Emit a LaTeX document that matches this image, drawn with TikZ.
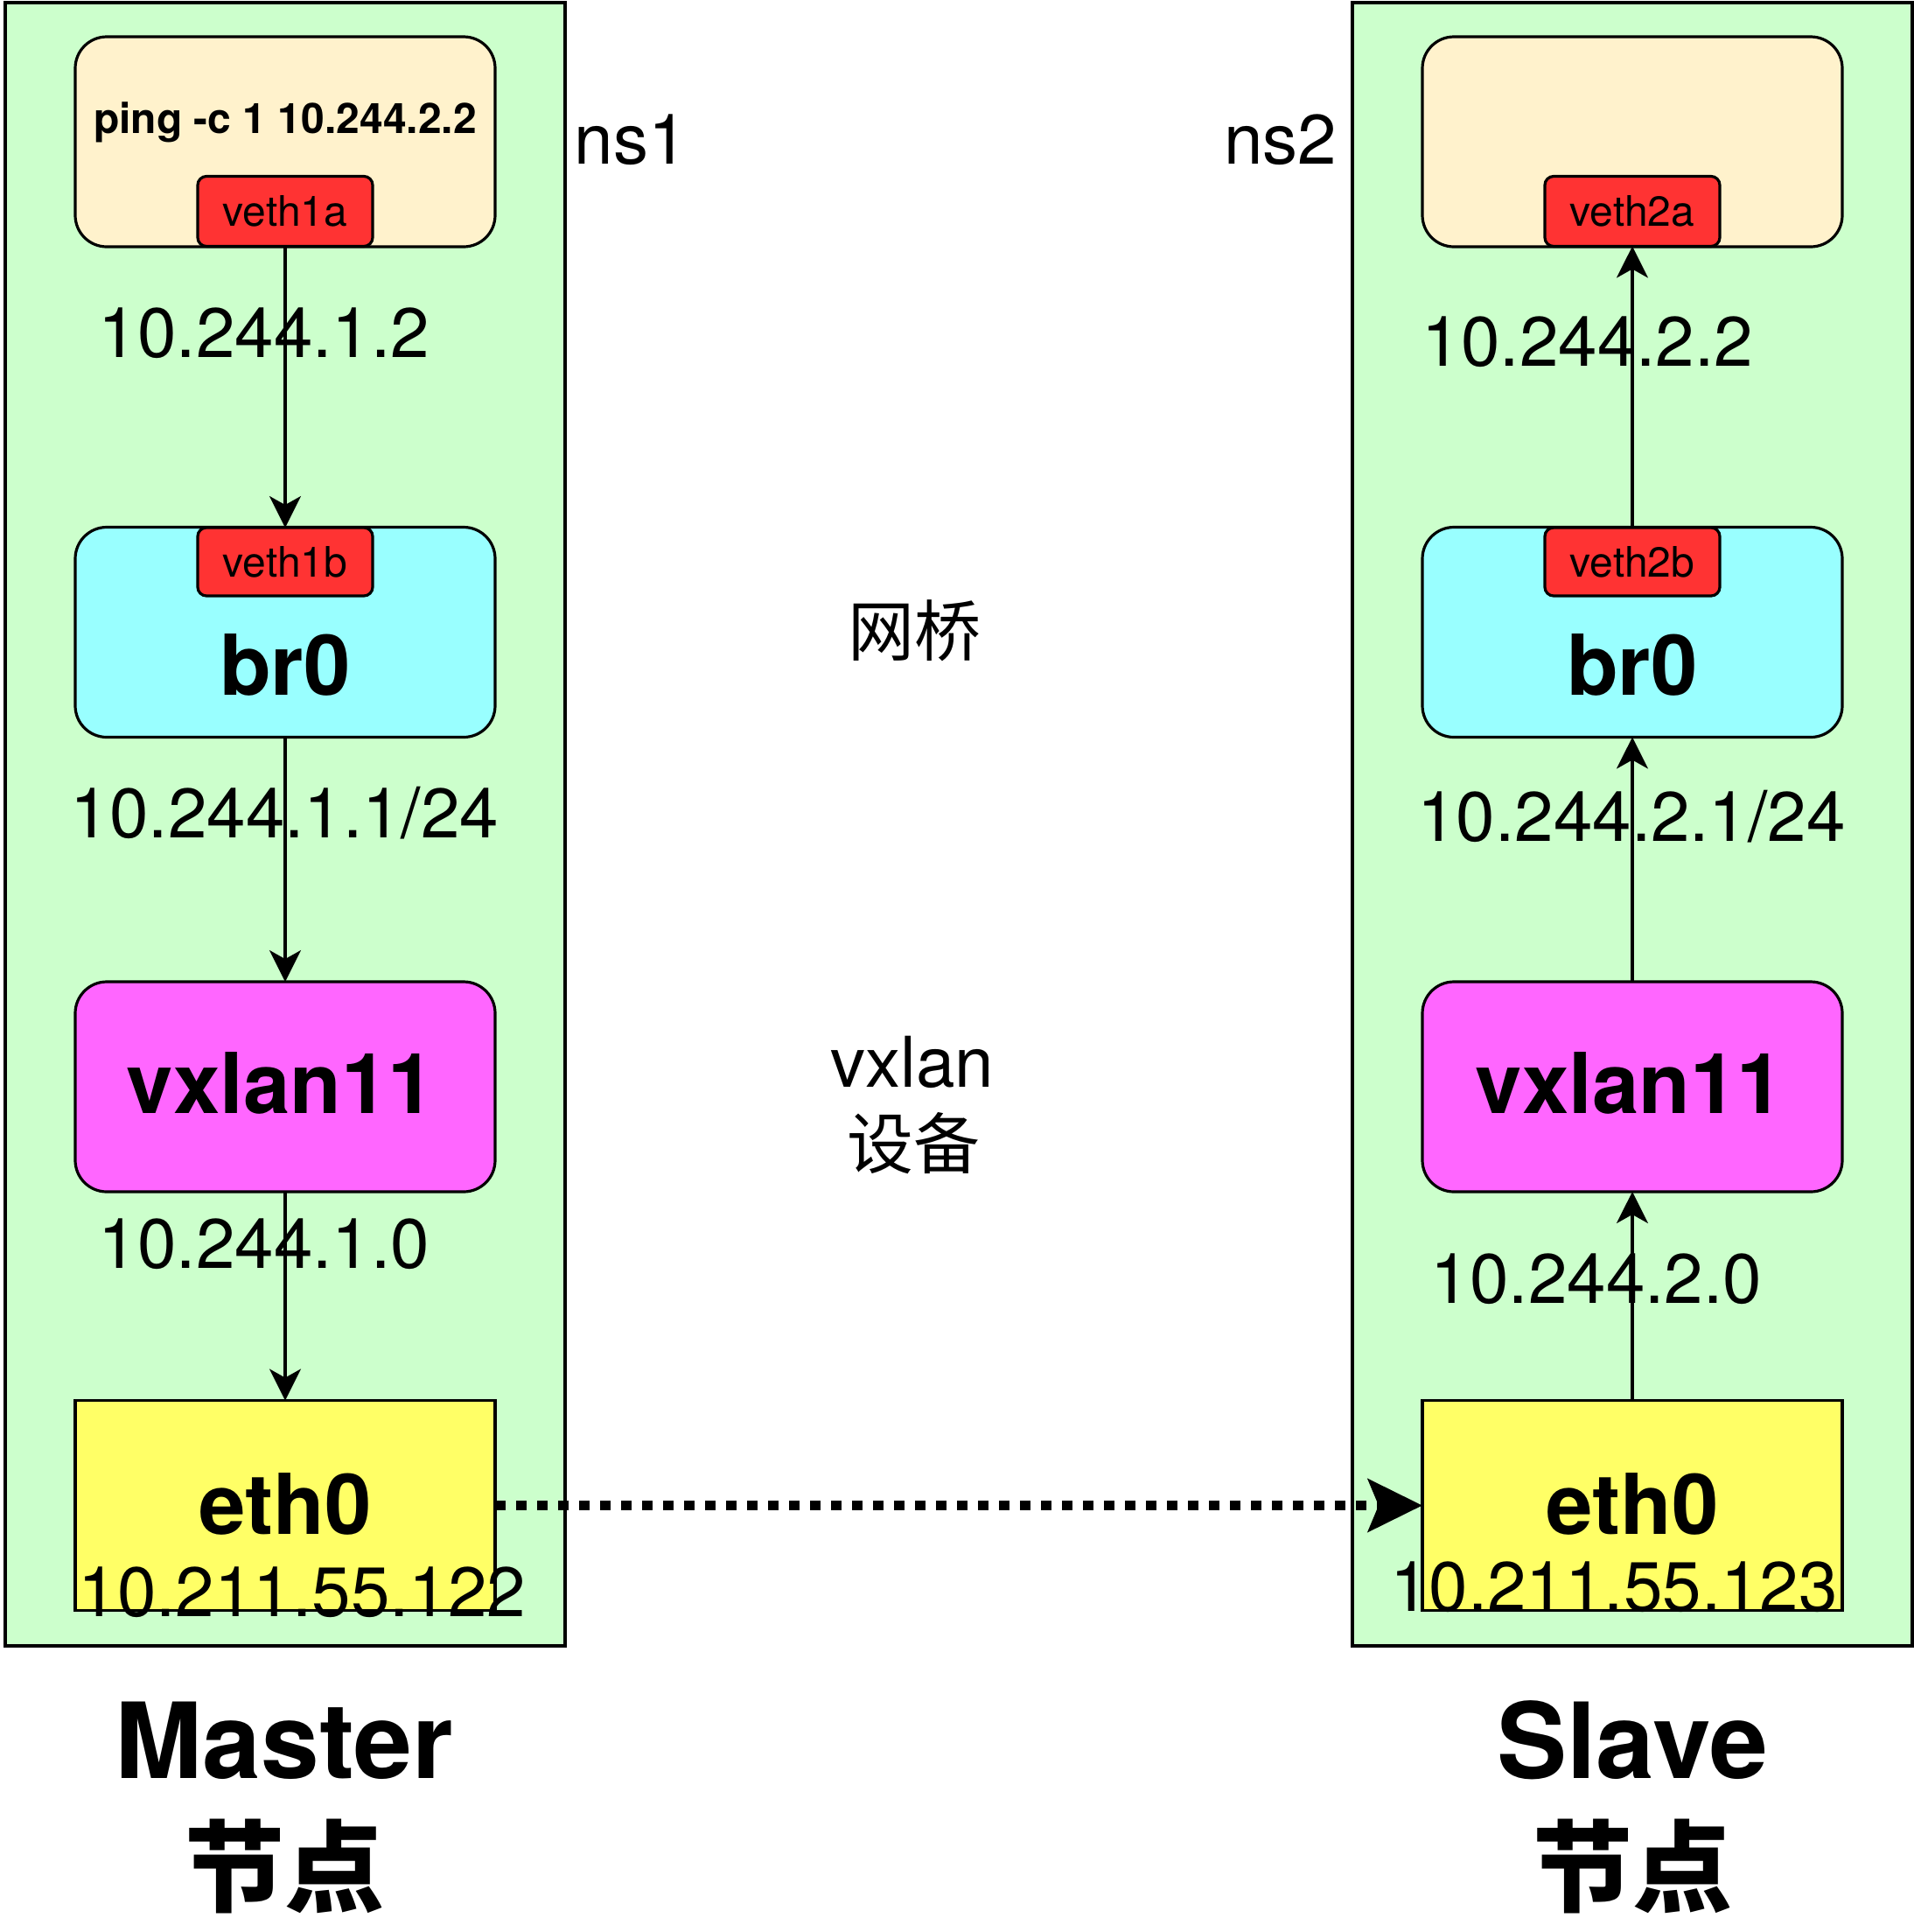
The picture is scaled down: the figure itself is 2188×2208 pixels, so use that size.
\documentclass[tikz,border=0pt]{standalone}
\usepackage{fontspec}
\setmainfont{TeX Gyre Heros}
\newfontfamily\cjk{Noto Sans CJK SC}
\usetikzlibrary{arrows.meta}

\definecolor{panelgreen}{HTML}{CCFFCC}
\definecolor{nscream}{HTML}{FFF2CC}
\definecolor{brcyan}{HTML}{99FFFF}
\definecolor{vxmagenta}{HTML}{FF66FF}
\definecolor{ethyellow}{HTML}{FFFF66}
\definecolor{vethred}{HTML}{FF3333}

\begin{document}
\begin{tikzpicture}[x=0.5pt,y=-0.5pt,
  panel/.style={draw, line width=2pt, fill=panelgreen, inner sep=0pt, outer sep=0pt,
    minimum width=320pt, minimum height=939pt},
  dev/.style={draw, line width=1.6pt, inner sep=0pt, outer sep=0pt,
    minimum width=240pt, minimum height=120pt},
  podns/.style={dev, fill=nscream, rounded corners=18pt},
  bridge/.style={dev, fill=brcyan, rounded corners=18pt},
  vtep/.style={dev, fill=vxmagenta, rounded corners=18pt},
  nic/.style={dev, fill=ethyellow},
  vethport/.style={draw, line width=1.6pt, fill=vethred, rounded corners=5pt,
    inner sep=0pt, outer sep=0pt, minimum width=100pt, minimum height=40pt,
    font=\fontsize{24}{28}\selectfont},
  podcmd/.style={anchor=base, inner sep=0pt, font=\fontsize{24}{28}\selectfont\bfseries},
  addr/.style={anchor=base, inner sep=0pt, font=\fontsize{40}{48}\selectfont},
  devname/.style={anchor=base, inner sep=0pt, font=\fontsize{48}{57}\selectfont\bfseries},
  note/.style={inner sep=0pt, font=\cjk\fontsize{38}{46}\selectfont},
  hostname/.style={anchor=base, inner sep=0pt, font=\fontsize{60}{72}\selectfont\bfseries},
  hostlabel/.style={inner sep=0pt, font=\cjk\fontsize{57}{68}\selectfont\bfseries},
  flow/.style={line width=1.6pt, -{Stealth[length=18pt,width=18pt,inset=5pt]}},
  tunnel/.style={line width=5.5pt, dash pattern=on 6pt off 6pt,
    -{Stealth[length=31pt,width=30pt,inset=6pt]}},
]
\useasboundingbox (0,0) rectangle (2188,2208);
\fill[white] (0,0) rectangle (2188,2208);

% host panels
\node[panel] (master) at (326,942) {};
\node[panel] (slave) at (1865.5,942) {};

% Master host devices
\node[podns]  (ns1box) at (326,162) {};
\node[bridge] (br1)    at (326,722.5) {};
\node[vtep]   (vx1)    at (326,1242) {};
\node[nic]    (eth1)   at (326,1720.5) {};
\node[vethport] (v1a) at (326,241.5) {veth1a};
\node[vethport, minimum height=39pt] (v1b) at (326,642) {veth1b};

% Slave host devices
\node[podns]  (ns2box) at (1866,162) {};
\node[bridge] (br2)    at (1866,722.5) {};
\node[vtep]   (vx2)    at (1866,1242) {};
\node[nic]    (eth2)   at (1866,1720.5) {};
\node[vethport] (v2a) at (1866,241.5) {veth2a};
\node[vethport, minimum height=39pt] (v2b) at (1866,642) {veth2b};

% packet path
\draw[flow] (v1a.south) -- (v1b.north);
\draw[flow] (br1.south) -- (vx1.north);
\draw[flow] (vx1.south) -- (eth1.north);
\draw[flow] (eth2.north) -- (vx2.south);
\draw[flow] (vx2.north) -- (br2.south);
\draw[flow] (v2b.north) -- (v2a.south);
\draw[tunnel] (eth1.east) -- (eth2.west);

% Master labels
\node[podcmd]  (cmd)    at (326,152)   {ping -c 1 10.244.2.2};
\node[addr]    (ip1a)   at (302,408)   {10.244.1.2};
\node[devname] (br1n)   at (326,794)   {br0};
\node[addr]    (ip1br)  at (325.5,957) {10.244.1.1/24};
\node[devname] (vx1n)   at (321,1272)  {vxlan11};
\node[addr]    (ip1vx)  at (302,1449)  {10.244.1.0};
\node[devname] (eth1n)  at (326,1753)  {eth0};
\node[addr]    (ip1eth) at (345.5,1847) {10.211.55.122};
\node[hostname]  (mname) at (325,2032) {Master};
\node[hostlabel] (mnode) at (325,2133) {节点};

% Slave labels
\node[addr]    (ip2a)   at (1815,418)  {10.244.2.2};
\node[devname] (br2n)   at (1866,794)  {br0};
\node[addr]    (ip2br)  at (1865,961)  {10.244.2.1/24};
\node[devname] (vx2n)   at (1863,1272) {vxlan11};
\node[addr]    (ip2vx)  at (1825,1489) {10.244.2.0};
\node[devname] (eth2n)  at (1866,1753) {eth0};
\node[addr]    (ip2eth) at (1845,1841) {10.211.55.123};
\node[hostname]  (sname) at (1866,2032) {Slave};
\node[hostlabel] (snode) at (1866,2133) {节点};

% namespace and legend labels
\node[addr] (ns1) at (721,187)    {ns1};
\node[addr] (ns2) at (1463.5,187) {ns2};
\node[note] (brnote) at (1045,721) {网桥};
\node[addr] (vxnote) at (1043,1242) {vxlan};
\node[note] (vxnote2) at (1044,1307) {设备};
\end{tikzpicture}
\end{document}
